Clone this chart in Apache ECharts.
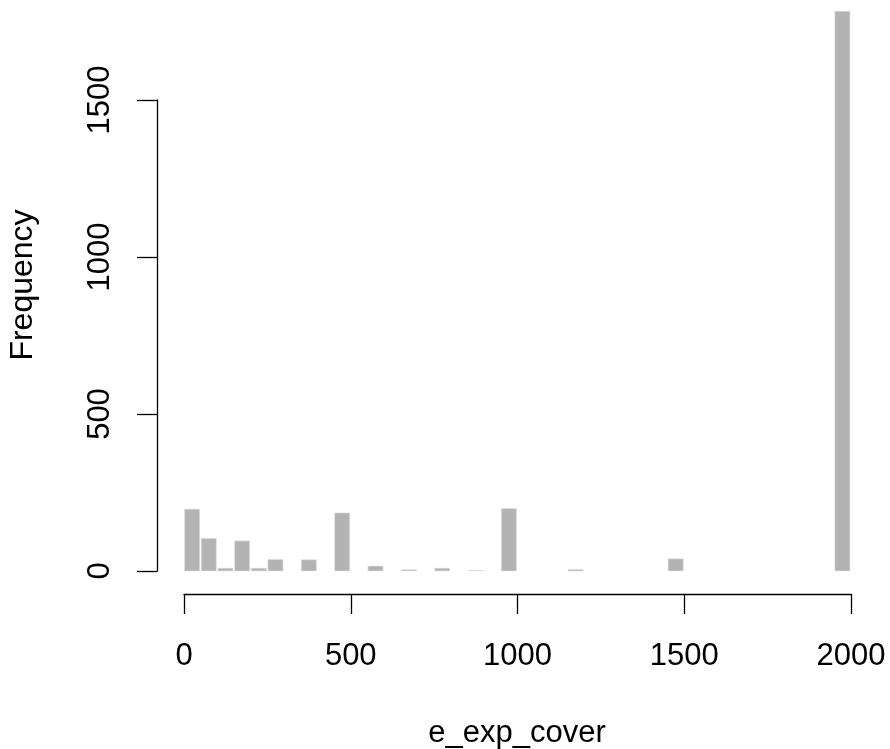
<!DOCTYPE html>
<html>
<head>
<meta charset="utf-8">
<title>Histogram of e_exp_cover</title>
<script src="https://cdn.jsdelivr.net/npm/echarts@6/dist/echarts.min.js"></script>
<style>
  html, body { margin: 0; padding: 0; background: #ffffff; }
  #chart { width: 890px; height: 749px; }
</style>
</head>
<body>
<div id="chart"></div>
<script>
// Histogram bins: left edges (width 50) and counts per bin
const binWidth = 50;
const binStarts = [
  0, 50, 100, 150, 200, 250, 300, 350, 400, 450,
  500, 550, 600, 650, 700, 750, 800, 850, 900, 950,
  1000, 1050, 1100, 1150, 1200, 1250, 1300, 1350, 1400, 1450,
  1500, 1550, 1600, 1650, 1700, 1750, 1800, 1850, 1900, 1950
];
const counts = [
  197, 104, 9, 96, 9, 37, 0, 36, 0, 185,
  0, 16, 0, 4, 0, 9, 0, 2, 0, 199,
  0, 0, 0, 5, 0, 0, 0, 0, 0, 39,
  0, 0, 0, 0, 0, 0, 0, 0, 0, 1783
];
const xTicks = [0, 500, 1000, 1500, 2000];
const yTicks = [0, 500, 1000, 1500];
const xTitle = 'e_exp_cover';
const yTitle = 'Frequency';

const FONT = "'Liberation Sans', Arial, Helvetica, sans-serif";
const FONT_SIZE = 31;

const binData = binStarts.map((s, i) => [s, s + binWidth, counts[i]]);

const chart = echarts.init(document.getElementById('chart'), null, { renderer: 'canvas' });

chart.setOption({
  backgroundColor: '#ffffff',
  animation: false,
  grid: { left: 184, right: 39, top: 100, bottom: 178, containLabel: false },
  xAxis: {
    type: 'value',
    min: xTicks[0],
    max: xTicks[xTicks.length - 1],
    interval: 500,
    offset: 23,
    splitLine: { show: false },
    axisLine: { show: true, onZero: false, lineStyle: { color: '#000000', width: 1.3 } },
    axisTick: { show: true, length: 20, lineStyle: { color: '#000000', width: 1.3 } },
    axisLabel: {
      show: true, margin: 47, color: '#000000',
      fontFamily: FONT, fontSize: FONT_SIZE,
      formatter: v => String(v)
    }
  },
  yAxis: {
    type: 'value',
    min: yTicks[0],
    max: yTicks[yTicks.length - 1],
    interval: 500,
    offset: 27,
    splitLine: { show: false },
    axisLine: { show: true, onZero: false, lineStyle: { color: '#000000', width: 1.3 } },
    axisTick: { show: true, length: 20, lineStyle: { color: '#000000', width: 1.3 } },
    axisLabel: {
      show: true, margin: 41, rotate: 90, color: '#000000',
      fontFamily: FONT, fontSize: FONT_SIZE,
      formatter: v => String(v)
    }
  },
  series: [{
    type: 'custom',
    clip: false,
    data: binData,
    encode: { x: [0, 1], y: 2 },
    renderItem: function (params, api) {
      const count = api.value(2);
      if (count <= 0) return null;
      const p0 = api.coord([api.value(0), count]);
      const p1 = api.coord([api.value(1), 0]);
      return {
        type: 'rect',
        shape: {
          x: p0[0] + 0.5,
          y: p0[1],
          width: p1[0] - p0[0] - 1.5,
          height: p1[1] - p0[1]
        },
        style: { fill: '#b3b3b3', stroke: '#e6e6e6', lineWidth: 0.6 }
      };
    }
  }],
  graphic: [
    {
      type: 'text',
      x: 517, y: 733,
      style: {
        text: xTitle, fontFamily: FONT, fontSize: FONT_SIZE, fill: '#000000',
        x: 0, y: 0, align: 'center', verticalAlign: 'middle'
      }
    },
    {
      type: 'text',
      x: 23, y: 285,
      rotation: Math.PI / 2,
      style: {
        text: yTitle, fontFamily: FONT, fontSize: 32, fill: '#000000',
        x: 0, y: 0, align: 'center', verticalAlign: 'middle'
      }
    }
  ]
});
</script>
</body>
</html>
